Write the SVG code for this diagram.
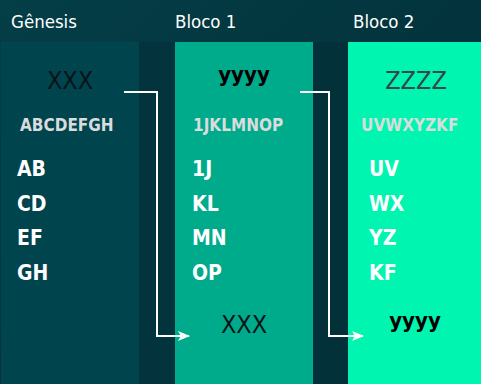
<svg xmlns="http://www.w3.org/2000/svg" width="481" height="384" viewBox="0 0 481 384">
<defs>
<linearGradient id="bg" x1="0" y1="0" x2="1" y2="1">
<stop offset="0" stop-color="#043e47"/>
<stop offset="1" stop-color="#022a33"/>
</linearGradient>
<marker id="ah" viewBox="0 0 12 10" refX="11" refY="5" markerWidth="12" markerHeight="10" markerUnits="userSpaceOnUse" orient="auto">
<path d="M0,0 L12,5 L0,10 L3,5 Z" fill="#ffffff"/>
</marker>
<style>
.title{font-family:"DejaVu Sans Condensed","DejaVu Sans",sans-serif;font-size:18.5px;fill:#ffffff}
.hash{font-family:"DejaVu Sans Condensed","DejaVu Sans",sans-serif;font-size:25px;text-anchor:middle}
.hashb{font-family:"DejaVu Sans Condensed","DejaVu Sans",sans-serif;font-size:22px;font-weight:bold;text-anchor:middle;fill:#000000}
.data{font-family:"DejaVu Sans Condensed","DejaVu Sans",sans-serif;font-size:17px;font-weight:bold;fill:#d9dcdc}
.tx{font-family:"DejaVu Sans Condensed","DejaVu Sans",sans-serif;font-size:21px;font-weight:bold;fill:#ffffff}
.conn{fill:none;stroke:#ffffff;stroke-width:2}
</style>
</defs>
<rect x="0" y="0" width="481" height="384" fill="url(#bg)"/>
<rect x="139" y="42" width="36" height="342" fill="#03343d"/>
<rect x="313" y="42" width="35" height="342" fill="#03313a"/>
<g id="genesis">
<text class="title" x="11" y="28">Gênesis</text>
<rect x="1" y="42" width="138" height="342" fill="#00444e"/>
<text class="hash" x="70" y="89" fill="#0a1416">XXX</text>
<text class="data" x="20" y="131">ABCDEFGH</text>
<text class="tx" x="17" y="176">AB</text>
<text class="tx" x="17" y="211">CD</text>
<text class="tx" x="17" y="245">EF</text>
<text class="tx" x="17" y="280">GH</text>
</g>
<g id="bloco1">
<text class="title" x="175" y="28">Bloco 1</text>
<rect x="175" y="42" width="138" height="342" fill="#00ab8c"/>
<text class="hashb" x="244" y="82">yyyy</text>
<text class="data" x="193" y="131">1JKLMNOP</text>
<text class="tx" x="192" y="176">1J</text>
<text class="tx" x="192" y="211">KL</text>
<text class="tx" x="192" y="245">MN</text>
<text class="tx" x="192" y="280">OP</text>
<text class="hash" x="244" y="333" fill="#0a1416">XXX</text>
</g>
<g id="bloco2">
<text class="title" x="353" y="28">Bloco 2</text>
<rect x="348" y="42" width="133" height="342" fill="#00f5b0"/>
<text class="hash" x="416" y="89" fill="#33474a">ZZZZ</text>
<text class="data" x="361" y="131" fill="#d5e3dd">UVWXYZKF</text>
<text class="tx" x="369" y="176">UV</text>
<text class="tx" x="369" y="211">WX</text>
<text class="tx" x="369" y="245">YZ</text>
<text class="tx" x="369" y="280">KF</text>
<text class="hashb" x="415" y="328">yyyy</text>
</g>
<g id="connectors">
<path class="conn" d="M124,92 H157 V336 H189" marker-end="url(#ah)"/>
<path class="conn" d="M300,92 H329 V336 H363" marker-end="url(#ah)"/>
</g>
</svg>
